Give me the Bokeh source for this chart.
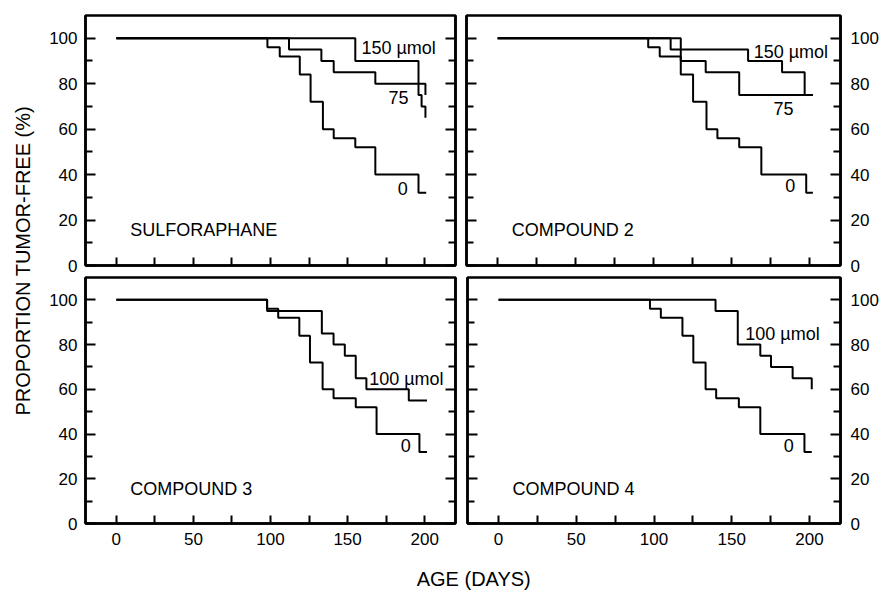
import math
from bokeh.plotting import figure
from bokeh.models import (Range1d, FixedTicker, LinearAxis, CustomJSTickFormatter,
                          ColumnDataSource)
from bokeh.layouts import row, column
from bokeh.embed import file_html
from bokeh.resources import INLINE
from bokeh.core.properties import value

FONT = "Liberation Sans"

# ---------------- data ----------------
x_major_ticks = [0, 50, 100, 150, 200]
x_minor_ticks = [25, 75, 125, 175]
y_major_ticks = [0, 20, 40, 60, 80, 100]
y_minor_ticks = [10, 30, 50, 70, 90]

panel_titles = ["SULFORAPHANE", "COMPOUND 2", "COMPOUND 3", "COMPOUND 4"]
x_title = "AGE  (DAYS)"
y_title = "PROPORTION TUMOR-FREE  (%)"

# Sulforaphane
sulf_0_days = [0, 98, 106, 119, 126, 134, 141, 155, 168, 196, 201]
sulf_0_pct = [100, 96, 92, 84, 72, 60, 56, 52, 40, 32, 32]
sulf_75_days = [0, 112, 133, 141, 168, 196, 198, 200.5]
sulf_75_pct = [100, 95, 90, 85, 80, 75, 70, 65]
sulf_150_days = [0, 155, 196, 200.5]
sulf_150_pct = [100, 90, 80, 75]

# Compound 2
c2_0_days = [0, 96.6, 104, 117.5, 125.4, 134, 141, 155, 169.2, 198, 202.3]
c2_0_pct = [100, 96, 92, 84, 72, 60, 56, 52, 40, 32, 32]
c2_75_days = [0, 117.5, 133.5, 155, 202.3]
c2_75_pct = [100, 90, 85, 75, 75]
c2_150_days = [0, 111, 160.7, 182.5, 197, 202.3]
c2_150_pct = [100, 95, 90, 85, 75, 75]

# Compound 3
c3_0_days = [0, 97.8, 105, 118.7, 125.6, 133.8, 140.9, 155.3, 168.8, 196.6, 201.5]
c3_0_pct = [100, 96, 92, 84, 72, 60, 56, 52, 40, 32, 32]
c3_100_days = [0, 97.8, 133.3, 140.9, 148.2, 155.3, 162.2, 189.7, 201.5]
c3_100_pct = [100, 95, 85, 80, 75, 65, 60, 55, 55]

# Compound 4
c4_0_days = [0, 97.4, 104.4, 118.3, 125.3, 133.2, 140, 154.6, 168.4, 196.8, 201.5]
c4_0_pct = [100, 96, 92, 84, 72, 60, 56, 52, 40, 32, 32]
c4_100_days = [0, 139.6, 153.9, 168.4, 175.3, 189.2, 201.5]
c4_100_pct = [100, 95, 80, 75, 70, 65, 60]

# curve labels: (text, day, pct, align)
sulf_labels = [("150 µmol", 159, 95.6, "left"), ("75", 176.5, 74, "left"), ("0", 189, 34, "right")]
c2_labels = [("150 µmol", 164.3, 94, "left"), ("75", 177, 69, "left"), ("0", 191, 35, "right")]
c3_labels = [("100 µmol", 164, 64.4, "left"), ("0", 191, 35, "right")]
c4_labels = [("100 µmol", 158.7, 84.7, "left"), ("0", 190, 35, "right")]

panel_curves = [
    [(sulf_0_days, sulf_0_pct), (sulf_75_days, sulf_75_pct), (sulf_150_days, sulf_150_pct)],
    [(c2_0_days, c2_0_pct), (c2_75_days, c2_75_pct), (c2_150_days, c2_150_pct)],
    [(c3_0_days, c3_0_pct), (c3_100_days, c3_100_pct)],
    [(c4_0_days, c4_0_pct), (c4_100_days, c4_100_pct)],
]
panel_labels = [sulf_labels, c2_labels, c3_labels, c4_labels]

TICK_FS = "17px"
TEXT_FS = "18px"
TITLE_FS = "20px"


def make_axis(major, minor, tick_in, minor_in, labels, standoff):
    ax = LinearAxis(ticker=FixedTicker(ticks=major, minor_ticks=minor),
                    major_tick_in=tick_in, major_tick_out=0,
                    minor_tick_in=minor_in, minor_tick_out=0,
                    axis_line_width=2.5, axis_line_color="black",
                    major_tick_line_width=2, minor_tick_line_width=2,
                    major_tick_line_color="black", minor_tick_line_color="black",
                    major_label_standoff=standoff)
    if labels:
        ax.major_label_text_font = FONT
        ax.major_label_text_font_size = TICK_FS
        ax.major_label_text_color = "black"
    else:
        ax.formatter = CustomJSTickFormatter(code="return ''")
        ax.major_label_text_font_size = "0px"
        ax.major_label_standoff = 0
    return ax


def make_panel(idx, fw, fh, mbl, mbr, mbt, mbb, left_lab, right_lab, bottom_lab, rstand):
    p = figure(frame_width=fw, frame_height=fh, x_range=Range1d(-20, 220), y_range=Range1d(0, 110),
               output_backend="svg", toolbar_location=None, title=None,
               x_axis_location=None, y_axis_location=None,
               min_border_left=mbl, min_border_right=mbr,
               min_border_top=mbt, min_border_bottom=mbb,
               background_fill_color="white", border_fill_color="white")
    p.grid.visible = False
    p.outline_line_color = "black"
    p.outline_line_width = 2.5
    p.outline_line_alpha = 1.0
    p.add_layout(make_axis(x_major_ticks, x_minor_ticks, 8, 8, bottom_lab, 9), "below")
    p.add_layout(make_axis(y_major_ticks, y_minor_ticks, 10, 7, left_lab, 8), "left")
    p.add_layout(make_axis(y_major_ticks, y_minor_ticks, 10, 7, right_lab, rstand), "right")
    for days, pct in panel_curves[idx]:
        src = ColumnDataSource(dict(x=days, y=pct))
        p.step("x", "y", source=src, mode="after", line_color="black", line_width=2)
    labs = panel_labels[idx]
    for align in ("left", "right"):
        sel = [l for l in labs if l[3] == align]
        if sel:
            src = ColumnDataSource(dict(x=[l[1] for l in sel], y=[l[2] for l in sel],
                                        t=[l[0] for l in sel]))
            p.text("x", "y", text="t", source=src, text_font=value(FONT),
                   text_font_size=value(TEXT_FS), text_align=align,
                   text_baseline="middle", text_color="black")
    src = ColumnDataSource(dict(x=[9], y=[15.6], t=[panel_titles[idx]]))
    p.text("x", "y", text="t", source=src, text_font=value(FONT),
           text_font_size=value(TEXT_FS), text_align="left",
           text_baseline="middle", text_color="black")
    return p


# frames: top row y 15..265, bottom row y 277..523 ; left col x 85..455, right col x 466..840
p1 = make_panel(0, 370, 250, 49, 5, 15, 11, True, False, False, 0)
p2 = make_panel(1, 374, 250, 6, 40, 15, 11, False, True, False, 10)
p3 = make_panel(2, 370, 246, 49, 5, 1, 33, True, False, True, 0)
p4 = make_panel(3, 373, 246, 7, 40, 1, 33, False, True, True, 10)


def blank(fw, fh):
    f = figure(frame_width=fw, frame_height=fh, x_range=Range1d(0, fw), y_range=Range1d(0, fh),
               output_backend="svg", toolbar_location=None, title=None,
               x_axis_location=None, y_axis_location=None,
               min_border=0, min_border_left=0, min_border_right=0,
               min_border_top=0, min_border_bottom=0,
               outline_line_color=None, background_fill_color="white",
               border_fill_color="white")
    f.grid.visible = False
    return f


ytitle = blank(36, 591)
ysrc = ColumnDataSource(dict(x=[22], y=[591 - 257.5], t=[y_title]))
ytitle.text("x", "y", text="t", source=ysrc, angle=math.pi / 2, text_font=value(FONT),
            text_font_size=value(TITLE_FS), text_align="center", text_baseline="middle",
            text_color="black")

xtitle = blank(844, 35)
xsrc = ColumnDataSource(dict(x=[440], y=[13], t=[x_title]))
xtitle.text("x", "y", text="t", source=xsrc, text_font=value(FONT),
            text_font_size=value(TITLE_FS), text_align="center", text_baseline="alphabetic",
            text_color="black")

layout = row(ytitle, column(row(p1, p2), row(p3, p4), xtitle))

with open("out.html", "w") as fh:
    fh.write(file_html(layout, INLINE))
